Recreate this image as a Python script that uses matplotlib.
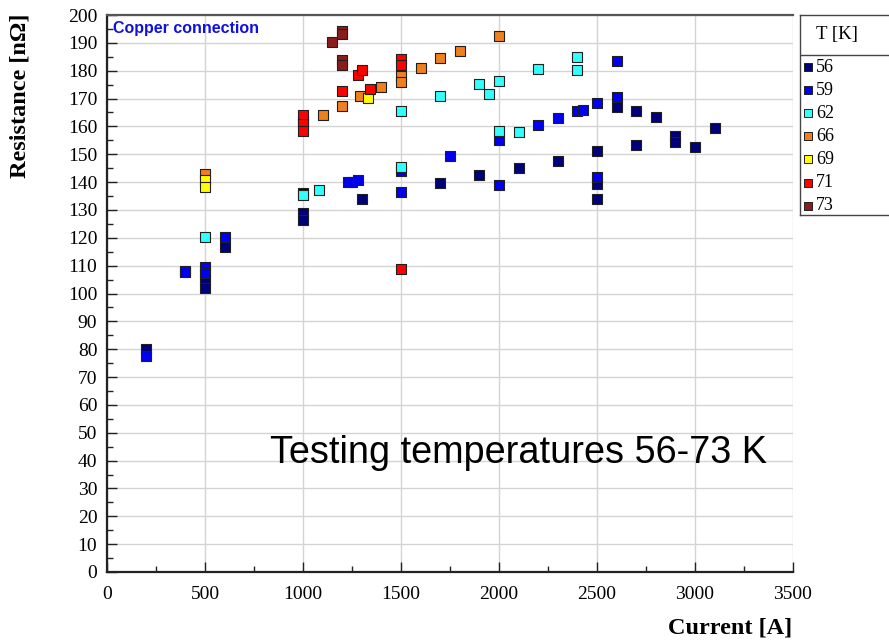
import matplotlib
matplotlib.use("Agg")
import matplotlib.pyplot as plt
from matplotlib.ticker import MultipleLocator

# T [K] series: (current [A], resistance [nOhm])
temps = ["56", "59", "62", "66", "69", "71", "73"]
colors = ["#00007a", "#0000f0", "#33ffff", "#f07f1e", "#ffff00", "#ff0000", "#8b1c1c"]

i56 = [200, 400, 500, 500, 600, 1000, 1000, 1000, 1300, 1700, 1900, 2100, 2300,
       2500, 2500, 2500, 2600, 2700, 2700, 2800, 2900, 2900, 3000, 3100]
r56 = [80, 108, 105.3, 101.8, 116.6, 136.2, 128.8, 126.4, 133.8, 139.5, 142.5, 145, 147.5,
       151, 139.3, 134, 167, 165.5, 153.5, 163.5, 156.5, 154.5, 152.5, 159.5]

i59 = [200, 400, 500, 500, 600, 1230, 1250, 1280, 1500, 1500, 1750, 2000, 2000,
       2200, 2300, 2400, 2430, 2500, 2500, 2600, 2600]
r59 = [77.5, 107.6, 109.6, 107.5, 120.4, 139.9, 139.9, 140.8, 144, 136.6, 149.5, 155.2, 139,
       160.5, 163, 165.5, 166, 168.3, 142, 183.5, 170.4]

i62 = [500, 1000, 1080, 1500, 1500, 1700, 1900, 1950, 2000, 2000, 2100, 2200, 2400, 2400]
r62 = [120.2, 135.5, 137.2, 165.6, 145.5, 171, 175.2, 171.5, 176.4, 158.5, 158.1, 180.6, 185, 180.1]

i66 = [500, 1000, 1100, 1200, 1290, 1400, 1500, 1500, 1600, 1700, 1800, 2000]
r66 = [142.8, 162, 164.2, 167.4, 171, 174.1, 178.2, 176, 181, 184.7, 187.2, 192.6]

i69 = [500, 500, 1330]
r69 = [140.8, 138.4, 170.1]

i71 = [1000, 1000, 1000, 1200, 1280, 1300, 1340, 1500, 1500, 1500]
r71 = [164.1, 160.8, 158.5, 172.8, 178.5, 180.2, 173.3, 184.2, 182, 108.7]

i73 = [1150, 1200, 1200, 1200, 1200]
r73 = [190.4, 194.4, 193.2, 183.8, 182]

currents = [i56, i59, i62, i66, i69, i71, i73]
resist = [r56, r59, r62, r66, r69, r71, r73]

serif = ["Liberation Serif", "DejaVu Serif"]

fig = plt.figure(figsize=(8.89, 6.41), dpi=100)
ax = fig.add_axes([107 / 889, 1 - 572 / 641, (793 - 107) / 889, (572 - 15) / 641])

for xs, ys, c in zip(currents, resist, colors):
    ax.scatter(xs, ys, marker="s", s=52, c=c, edgecolors="#202020", linewidths=0.8, zorder=3)

ax.set_xlim(0, 3500)
ax.set_ylim(0, 200)
ax.xaxis.set_major_locator(MultipleLocator(500))
ax.xaxis.set_minor_locator(MultipleLocator(250))
ax.yaxis.set_major_locator(MultipleLocator(10))
ax.yaxis.set_minor_locator(MultipleLocator(5))
ax.grid(True, which="major", color="#d4d4d4", linewidth=1.0, zorder=0)
ax.set_axisbelow(True)
ax.tick_params(which="both", direction="in", top=False, right=False, color="#222222")
ax.tick_params(which="major", length=7, width=1)
ax.tick_params(which="minor", length=4, width=1)
ax.tick_params(axis="y", pad=7)
ax.tick_params(axis="x", pad=10)
for lab in ax.get_xticklabels() + ax.get_yticklabels():
    lab.set_family(serif)
    lab.set_fontsize(14)
for s in ["left", "bottom", "top"]:
    ax.spines[s].set_linewidth(1.6)
    ax.spines[s].set_color("#222222")
ax.spines["top"].set_color("#555555")
ax.spines["right"].set_visible(False)

ax.text(30, 195.3, "Copper connection", color="#1010e0", fontsize=11.5, fontweight="bold",
        family=["Liberation Sans", "DejaVu Sans"], va="center", ha="left")
ax.text(832, 42.7, "Testing temperatures 56-73 K", color="black", fontsize=27.3,
        family=["Liberation Sans", "DejaVu Sans"], va="center", ha="left")

fig.text(20 / 889, 1 - 96 / 641, "Resistance [n\u03a9]", rotation=90, fontsize=17.5,
         fontweight="bold", family=serif, ha="center", va="center")
fig.text(730 / 889, 1 - 628 / 641, "Current [A]", fontsize=17.5, fontweight="bold",
         family=serif, ha="center", va="center")

# legend box
lg = fig.add_axes([800 / 889, 1 - 215 / 641, 100 / 889, 200 / 641])
lg.set_xlim(0, 1)
lg.set_ylim(0, 1)
lg.set_xticks([])
lg.set_yticks([])
for s in ["left", "top", "bottom"]:
    lg.spines[s].set_color("#444444")
    lg.spines[s].set_linewidth(1)
lg.spines["right"].set_visible(False)
lg.axhline(0.8, color="#444444", linewidth=1)
lg.text(0.37, 0.9, "T [K]", fontsize=13.5, family=serif, ha="center", va="center")
for k, (t, c) in enumerate(zip(temps, colors)):
    yy = 0.74 - k * 0.1155
    lg.scatter([0.08], [yy], marker="s", s=34, c=c, edgecolors="#202020", linewidths=0.7)
    lg.text(0.16, yy, t, fontsize=13, family=serif, ha="left", va="center")

fig.savefig("out.png", dpi=100)
